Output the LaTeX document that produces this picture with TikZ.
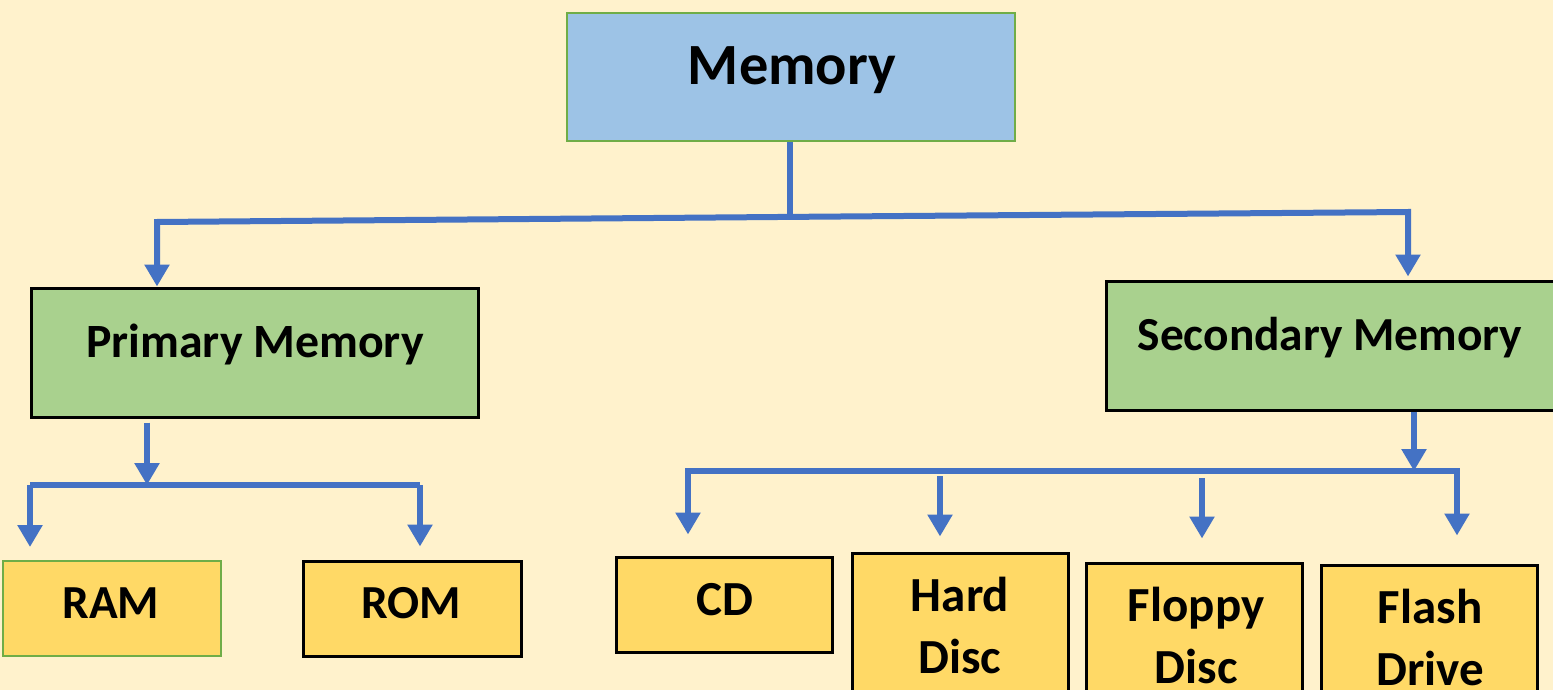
\documentclass[tikz,border=0pt]{standalone}
\usepackage{fontspec}
\setmainfont{Carlito}
\usetikzlibrary{arrows.meta}
\definecolor{bgc}{HTML}{FFF2CC}
\definecolor{bluefill}{HTML}{9DC3E6}
\definecolor{greenfill}{HTML}{A9D18E}
\definecolor{yellowfill}{HTML}{FFD966}
\definecolor{lineblue}{HTML}{4472C4}
\definecolor{greenedge}{HTML}{70AD47}
\tikzset{
  boxbase/.style={rectangle, inner sep=0pt},
  topbox/.style={boxbase, fill=bluefill, draw=greenedge, line width=1pt},
  midbox/.style={boxbase, fill=greenfill, draw=black, line width=1.5pt},
  leafbox/.style={boxbase, fill=yellowfill, draw=black, line width=1.5pt},
  leafgreen/.style={boxbase, fill=yellowfill, draw=greenedge, line width=1pt},
  lbl/.style={anchor=base, inner sep=0pt, font=\bfseries\fontsize{#1}{#1}\selectfont},
  conn/.style={draw=lineblue, line width=3pt, line join=miter},
  arr/.style={conn, -{Triangle[width=12pt,length=11pt]}}
}
\begin{document}
\begin{tikzpicture}[x=0.5pt,y=-0.5pt]
\fill[bgc] (0,0) rectangle (1553,690);
\useasboundingbox (0,0) rectangle (1553,690);
\clip (0,0) rectangle (1553,690);
% boxes
\node[topbox, minimum width=224pt, minimum height=64pt] (mem) at (791,77) {};
\node[midbox, minimum width=223.5pt, minimum height=64.5pt] (prim) at (254.5,352.5) {};
\node[midbox, minimum width=224.5pt, minimum height=64.5pt] (sec) at (1330.5,345.5) {};
\node[leafgreen, minimum width=109pt, minimum height=47.5pt] (ram) at (112,608.5) {};
\node[leafbox, minimum width=109pt, minimum height=47.5pt] (rom) at (412,608.5) {};
\node[leafbox, minimum width=108pt, minimum height=47.5pt] (cd) at (724,604.5) {};
\node[leafbox, minimum width=108pt, minimum height=88.5pt] (hd) at (960,641.5) {};
\node[leafbox, minimum width=108pt, minimum height=83.5pt] (fd) at (1194,646.5) {};
\node[leafbox, minimum width=108pt, minimum height=82.5pt] (fl) at (1429,647.5) {};
% labels
\node[lbl=29.2] (memt) at (792,85) {Memory};
\node[lbl=23.9] (primt) at (255,357) {Primary Memory};
\node[lbl=23.7] (sect) at (1330,350) {Secondary Memory};
\node[lbl=23.7] (ramt) at (111,618) {RAM};
\node[lbl=23.7] (romt) at (411,618) {ROM};
\node[lbl=24.5] (cdt) at (725,615) {CD};
\node[lbl=24.5] (hdt) at (960,611) {\fontsize{24.5}{31.25}\selectfont\begin{tabular}[t]{@{}c@{}}Hard\\Disc\end{tabular}};
\node[lbl=24.5] (fdt) at (1196,621) {\fontsize{24.5}{31.25}\selectfont\begin{tabular}[t]{@{}c@{}}Floppy\\Disc\end{tabular}};
\node[lbl=24.5] (flt) at (1430,623) {\fontsize{24.5}{31.25}\selectfont\begin{tabular}[t]{@{}c@{}}Flash\\Drive\end{tabular}};
% junctions
\coordinate (m1) at (157,222);
\coordinate (m2) at (1408,212);
\coordinate (mj) at (790,216.9);
\coordinate (pj) at (147,485);
\coordinate (pl) at (30,485);
\coordinate (pr) at (420,485);
\coordinate (sj) at (1414,471);
\coordinate (sl) at (685,471);
\coordinate (sr) at (1460,471);
\coordinate (s1) at (688,471);
\coordinate (s2) at (940,476);
\coordinate (s3) at (1202,478);
\coordinate (s4) at (1457,471);
% connectors
\draw[conn] (mem.south -| mj) -- (mj);
\draw[arr] (mj) -- (m1) -- (m1 |- prim.north);
\draw[arr, shorten >=1.5pt] (mj) -- (m2) -- (m2 |- sec.north);
\draw[arr] ([yshift=-2pt]prim.south -| pj) -- (pj);
\draw[conn] (pl) -- (pr);
\draw[arr, shorten >=6.5pt] (pl) -- (pl |- ram.north);
\draw[arr, shorten >=6.5pt] (pr) -- (pr |- rom.north);
\draw[arr] (sec.south -| sj) -- (sj);
\draw[conn] (sl) -- (sr);
\draw[arr, shorten >=10.5pt] (s1) -- (s1 |- cd.north);
\draw[arr, shorten >=7.5pt] (s2) -- (s2 |- hd.north);
\draw[arr, shorten >=11.5pt] (s3) -- (s3 |- fd.north);
\draw[arr, shorten >=14pt] (s4) -- (s4 |- fl.north);
\end{tikzpicture}
\end{document}
